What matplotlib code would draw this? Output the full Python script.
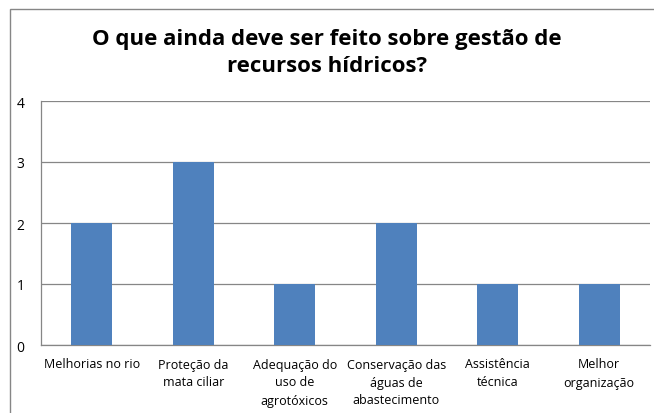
import matplotlib.pyplot as plt
from matplotlib.patches import Rectangle

# ---- DADOS ----
categorias = ["Melhorias no rio", "Proteção da\nmata ciliar", "Adequação do\nuso de\nagrotóxicos",
              "Conservação das\náguas de\nabastecimento", "Assistência\ntécnica", "Melhor\norganização"]
valores = [2, 3, 1, 2, 1, 1]
titulo = "O que ainda deve ser feito sobre gestão de\nrecursos hídricos?"
# ----------------

plt.rcParams['font.family'] = ['Open Sans', 'DejaVu Sans']

fig = plt.figure(figsize=(6.54, 4.14), dpi=100)
ax = fig.add_axes([41/654, 1 - 346/414, 609/654, 244/414])

x = list(range(len(categorias)))
ax.bar(x, valores, width=0.4, color="#4F81BD", zorder=3)
ax.set_xlim(-0.5, len(categorias) - 0.5)
ax.set_ylim(0, 4)
ax.set_yticks([0, 1, 2, 3, 4])
ax.set_xticks(x)
ax.set_xticklabels(categorias, fontsize=9, linespacing=1.5)
ax.tick_params(axis="y", length=0, pad=12, labelsize=10)
ax.tick_params(axis="x", length=0, pad=9)
ax.yaxis.grid(True, color="#868686", linewidth=0.9, zorder=0)

for s in ["top", "right"]:
    ax.spines[s].set_visible(False)
for s in ["left", "bottom"]:
    ax.spines[s].set_color("#868686")
    ax.spines[s].set_linewidth(0.9)

fig.text(0.5, 1 - 53/414, titulo, ha="center", va="center", fontsize=16,
         fontweight="bold", linespacing=1.4)

# borda da área do gráfico
fig.patches.append(Rectangle((10/654, -0.05), 1.1, 1 - 10/414 + 0.05, transform=fig.transFigure,
                             fill=False, edgecolor="#868686", linewidth=1))

plt.savefig("out.png", dpi=100)
